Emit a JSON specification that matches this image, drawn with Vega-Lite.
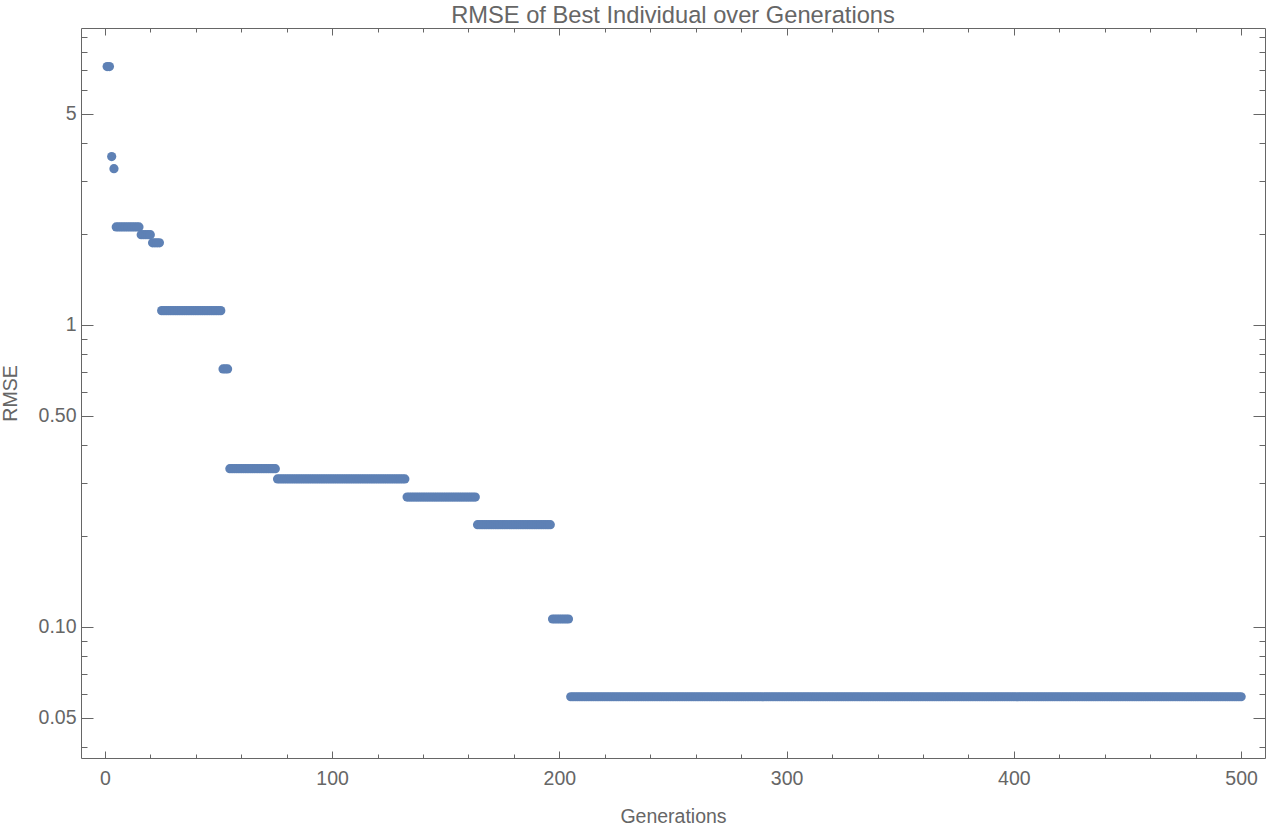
{
  "$schema": "https://vega.github.io/schema/vega-lite/v6.json",
  "autosize": {"type": "none"},
  "padding": {"left": 81, "top": 28, "right": 9, "bottom": 74},
  "width": 1184,
  "height": 730,
  "background": "white",
  "title": {
    "text": "RMSE of Best Individual over Generations",
    "font": "Liberation Sans",
    "fontSize": 23.7,
    "fontWeight": "normal",
    "color": "#666666",
    "anchor": "middle",
    "frame": "group",
    "baseline": "bottom",
    "offset": -24.5
  },
  "config": {
    "view": {"stroke": null},
    "axis": {
      "grid": false,
      "domainColor": "#666666",
      "domainWidth": 1,
      "tickColor": "#666666",
      "tickWidth": 1,
      "labelFont": "Liberation Sans",
      "labelFontSize": 19.5,
      "labelColor": "#666666",
      "titleFont": "Liberation Sans",
      "titleFontSize": 19.5,
      "titleFontWeight": "normal",
      "titleColor": "#666666",
      "labelFlush": false,
      "labelOverlap": false
    }
  },
  "data": {
    "values": [
      {"g":1,"r":7.17},{"g":2,"r":7.17},{"g":3,"r":3.61},{"g":4,"r":3.29},
      {"g":5,"r":2.11},{"g":6,"r":2.11},{"g":7,"r":2.11},{"g":8,"r":2.11},{"g":9,"r":2.11},{"g":10,"r":2.11},
      {"g":11,"r":2.11},{"g":12,"r":2.11},{"g":13,"r":2.11},{"g":14,"r":2.11},{"g":15,"r":2.11},
      {"g":16,"r":1.99},{"g":17,"r":1.99},{"g":18,"r":1.99},{"g":19,"r":1.99},{"g":20,"r":1.99},
      {"g":21,"r":1.87},{"g":22,"r":1.87},{"g":23,"r":1.87},{"g":24,"r":1.87},
      {"g":25,"r":1.115},{"g":26,"r":1.115},{"g":27,"r":1.115},{"g":28,"r":1.115},{"g":29,"r":1.115},{"g":30,"r":1.115},
      {"g":31,"r":1.115},{"g":32,"r":1.115},{"g":33,"r":1.115},{"g":34,"r":1.115},{"g":35,"r":1.115},{"g":36,"r":1.115},
      {"g":37,"r":1.115},{"g":38,"r":1.115},{"g":39,"r":1.115},{"g":40,"r":1.115},{"g":41,"r":1.115},{"g":42,"r":1.115},
      {"g":43,"r":1.115},{"g":44,"r":1.115},{"g":45,"r":1.115},{"g":46,"r":1.115},{"g":47,"r":1.115},{"g":48,"r":1.115},
      {"g":49,"r":1.115},{"g":50,"r":1.115},{"g":51,"r":1.115},
      {"g":52,"r":0.715},{"g":53,"r":0.715},{"g":54,"r":0.715},
      {"g":55,"r":0.334},{"g":56,"r":0.334},{"g":57,"r":0.334},{"g":58,"r":0.334},{"g":59,"r":0.334},{"g":60,"r":0.334},
      {"g":61,"r":0.334},{"g":62,"r":0.334},{"g":63,"r":0.334},{"g":64,"r":0.334},{"g":65,"r":0.334},{"g":66,"r":0.334},
      {"g":67,"r":0.334},{"g":68,"r":0.334},{"g":69,"r":0.334},{"g":70,"r":0.334},{"g":71,"r":0.334},{"g":72,"r":0.334},
      {"g":73,"r":0.334},{"g":74,"r":0.334},{"g":75,"r":0.334},
      {"g":76,"r":0.309},{"g":77,"r":0.309},{"g":78,"r":0.309},{"g":79,"r":0.309},{"g":80,"r":0.309},
      {"g":81,"r":0.309},{"g":82,"r":0.309},{"g":83,"r":0.309},{"g":84,"r":0.309},{"g":85,"r":0.309},
      {"g":86,"r":0.309},{"g":87,"r":0.309},{"g":88,"r":0.309},{"g":89,"r":0.309},{"g":90,"r":0.309},
      {"g":91,"r":0.309},{"g":92,"r":0.309},{"g":93,"r":0.309},{"g":94,"r":0.309},{"g":95,"r":0.309},
      {"g":96,"r":0.309},{"g":97,"r":0.309},{"g":98,"r":0.309},{"g":99,"r":0.309},{"g":100,"r":0.309},
      {"g":101,"r":0.309},{"g":102,"r":0.309},{"g":103,"r":0.309},{"g":104,"r":0.309},{"g":105,"r":0.309},
      {"g":106,"r":0.309},{"g":107,"r":0.309},{"g":108,"r":0.309},{"g":109,"r":0.309},{"g":110,"r":0.309},
      {"g":111,"r":0.309},{"g":112,"r":0.309},{"g":113,"r":0.309},{"g":114,"r":0.309},{"g":115,"r":0.309},
      {"g":116,"r":0.309},{"g":117,"r":0.309},{"g":118,"r":0.309},{"g":119,"r":0.309},{"g":120,"r":0.309},
      {"g":121,"r":0.309},{"g":122,"r":0.309},{"g":123,"r":0.309},{"g":124,"r":0.309},{"g":125,"r":0.309},
      {"g":126,"r":0.309},{"g":127,"r":0.309},{"g":128,"r":0.309},{"g":129,"r":0.309},{"g":130,"r":0.309},
      {"g":131,"r":0.309},{"g":132,"r":0.309},
      {"g":133,"r":0.269},{"g":134,"r":0.269},{"g":135,"r":0.269},{"g":136,"r":0.269},{"g":137,"r":0.269},
      {"g":138,"r":0.269},{"g":139,"r":0.269},{"g":140,"r":0.269},{"g":141,"r":0.269},{"g":142,"r":0.269},
      {"g":143,"r":0.269},{"g":144,"r":0.269},{"g":145,"r":0.269},{"g":146,"r":0.269},{"g":147,"r":0.269},
      {"g":148,"r":0.269},{"g":149,"r":0.269},{"g":150,"r":0.269},{"g":151,"r":0.269},{"g":152,"r":0.269},
      {"g":153,"r":0.269},{"g":154,"r":0.269},{"g":155,"r":0.269},{"g":156,"r":0.269},{"g":157,"r":0.269},
      {"g":158,"r":0.269},{"g":159,"r":0.269},{"g":160,"r":0.269},{"g":161,"r":0.269},{"g":162,"r":0.269},
      {"g":163,"r":0.269},
      {"g":164,"r":0.218},{"g":165,"r":0.218},{"g":166,"r":0.218},{"g":167,"r":0.218},{"g":168,"r":0.218},
      {"g":169,"r":0.218},{"g":170,"r":0.218},{"g":171,"r":0.218},{"g":172,"r":0.218},{"g":173,"r":0.218},
      {"g":174,"r":0.218},{"g":175,"r":0.218},{"g":176,"r":0.218},{"g":177,"r":0.218},{"g":178,"r":0.218},
      {"g":179,"r":0.218},{"g":180,"r":0.218},{"g":181,"r":0.218},{"g":182,"r":0.218},{"g":183,"r":0.218},
      {"g":184,"r":0.218},{"g":185,"r":0.218},{"g":186,"r":0.218},{"g":187,"r":0.218},{"g":188,"r":0.218},
      {"g":189,"r":0.218},{"g":190,"r":0.218},{"g":191,"r":0.218},{"g":192,"r":0.218},{"g":193,"r":0.218},
      {"g":194,"r":0.218},{"g":195,"r":0.218},{"g":196,"r":0.218},
      {"g":197,"r":0.1062},{"g":198,"r":0.1062},{"g":199,"r":0.1062},{"g":200,"r":0.1062},
      {"g":201,"r":0.1062},{"g":202,"r":0.1062},{"g":203,"r":0.1062},{"g":204,"r":0.1062},
      {"g":205,"r":0.0587},{"g":206,"r":0.0587},{"g":207,"r":0.0587},{"g":208,"r":0.0587},{"g":209,"r":0.0587},{"g":210,"r":0.0587},
      {"g":211,"r":0.0587},{"g":212,"r":0.0587},{"g":213,"r":0.0587},{"g":214,"r":0.0587},{"g":215,"r":0.0587},{"g":216,"r":0.0587},
      {"g":217,"r":0.0587},{"g":218,"r":0.0587},{"g":219,"r":0.0587},{"g":220,"r":0.0587},{"g":221,"r":0.0587},{"g":222,"r":0.0587},
      {"g":223,"r":0.0587},{"g":224,"r":0.0587},{"g":225,"r":0.0587},{"g":226,"r":0.0587},{"g":227,"r":0.0587},{"g":228,"r":0.0587},
      {"g":229,"r":0.0587},{"g":230,"r":0.0587},{"g":231,"r":0.0587},{"g":232,"r":0.0587},{"g":233,"r":0.0587},{"g":234,"r":0.0587},
      {"g":235,"r":0.0587},{"g":236,"r":0.0587},{"g":237,"r":0.0587},{"g":238,"r":0.0587},{"g":239,"r":0.0587},{"g":240,"r":0.0587},
      {"g":241,"r":0.0587},{"g":242,"r":0.0587},{"g":243,"r":0.0587},{"g":244,"r":0.0587},{"g":245,"r":0.0587},{"g":246,"r":0.0587},
      {"g":247,"r":0.0587},{"g":248,"r":0.0587},{"g":249,"r":0.0587},{"g":250,"r":0.0587},{"g":251,"r":0.0587},{"g":252,"r":0.0587},
      {"g":253,"r":0.0587},{"g":254,"r":0.0587},{"g":255,"r":0.0587},{"g":256,"r":0.0587},{"g":257,"r":0.0587},{"g":258,"r":0.0587},
      {"g":259,"r":0.0587},{"g":260,"r":0.0587},{"g":261,"r":0.0587},{"g":262,"r":0.0587},{"g":263,"r":0.0587},{"g":264,"r":0.0587},
      {"g":265,"r":0.0587},{"g":266,"r":0.0587},{"g":267,"r":0.0587},{"g":268,"r":0.0587},{"g":269,"r":0.0587},{"g":270,"r":0.0587},
      {"g":271,"r":0.0587},{"g":272,"r":0.0587},{"g":273,"r":0.0587},{"g":274,"r":0.0587},{"g":275,"r":0.0587},{"g":276,"r":0.0587},
      {"g":277,"r":0.0587},{"g":278,"r":0.0587},{"g":279,"r":0.0587},{"g":280,"r":0.0587},{"g":281,"r":0.0587},{"g":282,"r":0.0587},
      {"g":283,"r":0.0587},{"g":284,"r":0.0587},{"g":285,"r":0.0587},{"g":286,"r":0.0587},{"g":287,"r":0.0587},{"g":288,"r":0.0587},
      {"g":289,"r":0.0587},{"g":290,"r":0.0587},{"g":291,"r":0.0587},{"g":292,"r":0.0587},{"g":293,"r":0.0587},{"g":294,"r":0.0587},
      {"g":295,"r":0.0587},{"g":296,"r":0.0587},{"g":297,"r":0.0587},{"g":298,"r":0.0587},{"g":299,"r":0.0587},{"g":300,"r":0.0587},
      {"g":301,"r":0.0587},{"g":302,"r":0.0587},{"g":303,"r":0.0587},{"g":304,"r":0.0587},{"g":305,"r":0.0587},{"g":306,"r":0.0587},
      {"g":307,"r":0.0587},{"g":308,"r":0.0587},{"g":309,"r":0.0587},{"g":310,"r":0.0587},{"g":311,"r":0.0587},{"g":312,"r":0.0587},
      {"g":313,"r":0.0587},{"g":314,"r":0.0587},{"g":315,"r":0.0587},{"g":316,"r":0.0587},{"g":317,"r":0.0587},{"g":318,"r":0.0587},
      {"g":319,"r":0.0587},{"g":320,"r":0.0587},{"g":321,"r":0.0587},{"g":322,"r":0.0587},{"g":323,"r":0.0587},{"g":324,"r":0.0587},
      {"g":325,"r":0.0587},{"g":326,"r":0.0587},{"g":327,"r":0.0587},{"g":328,"r":0.0587},{"g":329,"r":0.0587},{"g":330,"r":0.0587},
      {"g":331,"r":0.0587},{"g":332,"r":0.0587},{"g":333,"r":0.0587},{"g":334,"r":0.0587},{"g":335,"r":0.0587},{"g":336,"r":0.0587},
      {"g":337,"r":0.0587},{"g":338,"r":0.0587},{"g":339,"r":0.0587},{"g":340,"r":0.0587},{"g":341,"r":0.0587},{"g":342,"r":0.0587},
      {"g":343,"r":0.0587},{"g":344,"r":0.0587},{"g":345,"r":0.0587},{"g":346,"r":0.0587},{"g":347,"r":0.0587},{"g":348,"r":0.0587},
      {"g":349,"r":0.0587},{"g":350,"r":0.0587},{"g":351,"r":0.0587},{"g":352,"r":0.0587},{"g":353,"r":0.0587},{"g":354,"r":0.0587},
      {"g":355,"r":0.0587},{"g":356,"r":0.0587},{"g":357,"r":0.0587},{"g":358,"r":0.0587},{"g":359,"r":0.0587},{"g":360,"r":0.0587},
      {"g":361,"r":0.0587},{"g":362,"r":0.0587},{"g":363,"r":0.0587},{"g":364,"r":0.0587},{"g":365,"r":0.0587},{"g":366,"r":0.0587},
      {"g":367,"r":0.0587},{"g":368,"r":0.0587},{"g":369,"r":0.0587},{"g":370,"r":0.0587},{"g":371,"r":0.0587},{"g":372,"r":0.0587},
      {"g":373,"r":0.0587},{"g":374,"r":0.0587},{"g":375,"r":0.0587},{"g":376,"r":0.0587},{"g":377,"r":0.0587},{"g":378,"r":0.0587},
      {"g":379,"r":0.0587},{"g":380,"r":0.0587},{"g":381,"r":0.0587},{"g":382,"r":0.0587},{"g":383,"r":0.0587},{"g":384,"r":0.0587},
      {"g":385,"r":0.0587},{"g":386,"r":0.0587},{"g":387,"r":0.0587},{"g":388,"r":0.0587},{"g":389,"r":0.0587},{"g":390,"r":0.0587},
      {"g":391,"r":0.0587},{"g":392,"r":0.0587},{"g":393,"r":0.0587},{"g":394,"r":0.0587},{"g":395,"r":0.0587},{"g":396,"r":0.0587},
      {"g":397,"r":0.0587},{"g":398,"r":0.0587},{"g":399,"r":0.0587},{"g":400,"r":0.0587},{"g":401,"r":0.0587},{"g":402,"r":0.0587},
      {"g":403,"r":0.0587},{"g":404,"r":0.0587},{"g":405,"r":0.0587},{"g":406,"r":0.0587},{"g":407,"r":0.0587},{"g":408,"r":0.0587},
      {"g":409,"r":0.0587},{"g":410,"r":0.0587},{"g":411,"r":0.0587},{"g":412,"r":0.0587},{"g":413,"r":0.0587},{"g":414,"r":0.0587},
      {"g":415,"r":0.0587},{"g":416,"r":0.0587},{"g":417,"r":0.0587},{"g":418,"r":0.0587},{"g":419,"r":0.0587},{"g":420,"r":0.0587},
      {"g":421,"r":0.0587},{"g":422,"r":0.0587},{"g":423,"r":0.0587},{"g":424,"r":0.0587},{"g":425,"r":0.0587},{"g":426,"r":0.0587},
      {"g":427,"r":0.0587},{"g":428,"r":0.0587},{"g":429,"r":0.0587},{"g":430,"r":0.0587},{"g":431,"r":0.0587},{"g":432,"r":0.0587},
      {"g":433,"r":0.0587},{"g":434,"r":0.0587},{"g":435,"r":0.0587},{"g":436,"r":0.0587},{"g":437,"r":0.0587},{"g":438,"r":0.0587},
      {"g":439,"r":0.0587},{"g":440,"r":0.0587},{"g":441,"r":0.0587},{"g":442,"r":0.0587},{"g":443,"r":0.0587},{"g":444,"r":0.0587},
      {"g":445,"r":0.0587},{"g":446,"r":0.0587},{"g":447,"r":0.0587},{"g":448,"r":0.0587},{"g":449,"r":0.0587},{"g":450,"r":0.0587},
      {"g":451,"r":0.0587},{"g":452,"r":0.0587},{"g":453,"r":0.0587},{"g":454,"r":0.0587},{"g":455,"r":0.0587},{"g":456,"r":0.0587},
      {"g":457,"r":0.0587},{"g":458,"r":0.0587},{"g":459,"r":0.0587},{"g":460,"r":0.0587},{"g":461,"r":0.0587},{"g":462,"r":0.0587},
      {"g":463,"r":0.0587},{"g":464,"r":0.0587},{"g":465,"r":0.0587},{"g":466,"r":0.0587},{"g":467,"r":0.0587},{"g":468,"r":0.0587},
      {"g":469,"r":0.0587},{"g":470,"r":0.0587},{"g":471,"r":0.0587},{"g":472,"r":0.0587},{"g":473,"r":0.0587},{"g":474,"r":0.0587},
      {"g":475,"r":0.0587},{"g":476,"r":0.0587},{"g":477,"r":0.0587},{"g":478,"r":0.0587},{"g":479,"r":0.0587},{"g":480,"r":0.0587},
      {"g":481,"r":0.0587},{"g":482,"r":0.0587},{"g":483,"r":0.0587},{"g":484,"r":0.0587},{"g":485,"r":0.0587},{"g":486,"r":0.0587},
      {"g":487,"r":0.0587},{"g":488,"r":0.0587},{"g":489,"r":0.0587},{"g":490,"r":0.0587},{"g":491,"r":0.0587},{"g":492,"r":0.0587},
      {"g":493,"r":0.0587},{"g":494,"r":0.0587},{"g":495,"r":0.0587},{"g":496,"r":0.0587},{"g":497,"r":0.0587},{"g":498,"r":0.0587},
      {"g":499,"r":0.0587},{"g":500,"r":0.0587}
    ]
  },
  "layer": [
    {
      "mark": {"type": "circle", "size": 85, "color": "#5E81B5", "opacity": 1},
      "encoding": {
        "x": {
          "field": "g",
          "type": "quantitative",
          "scale": {"domain": [-10.5, 510.5], "nice": false, "zero": false},
          "axis": {
            "orient": "bottom",
            "values": [0,20,40,60,80,100,120,140,160,180,200,220,240,260,280,300,320,340,360,380,400,420,440,460,480,500],
            "tickSize": {"condition": {"test": "datum.value % 100 === 0", "value": -7}, "value": -4},
            "labelExpr": "datum.value % 100 === 0 ? datum.label : ''",
            "labelBaseline": "alphabetic",
            "labelPadding": 33,
            "title": "Generations",
            "titleBaseline": "alphabetic",
            "titleY": 64
          }
        },
        "y": {
          "field": "r",
          "type": "quantitative",
          "scale": {"type": "log", "domain": [0.0368, 9.62], "nice": false},
          "axis": {
            "orient": "left",
            "values": [0.04,0.05,0.06,0.07,0.08,0.09,0.1,0.2,0.3,0.4,0.5,0.6,0.7,0.8,0.9,1,2,3,4,5,6,7,8,9],
            "tickSize": {"condition": {"test": "indexof([0.05,0.1,0.5,1,5], datum.value) >= 0", "value": -12}, "value": -6},
            "labelExpr": "indexof([0.05,0.1,0.5,1,5], datum.value) >= 0 ? (datum.value < 1 ? format(datum.value, '.2f') : format(datum.value, 'd')) : ''",
            "labelPadding": 17,
            "labelBaseline": "middle",
            "title": "RMSE",
            "titleBaseline": "alphabetic",
            "titleX": -65
          }
        }
      }
    },
    {
      "mark": {"type": "circle", "size": 85, "opacity": 0},
      "encoding": {
        "x": {
          "field": "g",
          "type": "quantitative",
          "axis": {
            "orient": "top",
            "values": [0,20,40,60,80,100,120,140,160,180,200,220,240,260,280,300,320,340,360,380,400,420,440,460,480,500],
            "tickSize": {"condition": {"test": "datum.value % 100 === 0", "value": -7}, "value": -4},
            "labels": false,
            "title": null
          }
        },
        "y": {
          "field": "r",
          "type": "quantitative",
          "axis": {
            "orient": "right",
            "values": [0.04,0.05,0.06,0.07,0.08,0.09,0.1,0.2,0.3,0.4,0.5,0.6,0.7,0.8,0.9,1,2,3,4,5,6,7,8,9],
            "tickSize": {"condition": {"test": "indexof([0.05,0.1,0.5,1,5], datum.value) >= 0", "value": -12}, "value": -6},
            "labels": false,
            "title": null
          }
        }
      }
    }
  ],
  "resolve": {"axis": {"x": "independent", "y": "independent"}}
}
